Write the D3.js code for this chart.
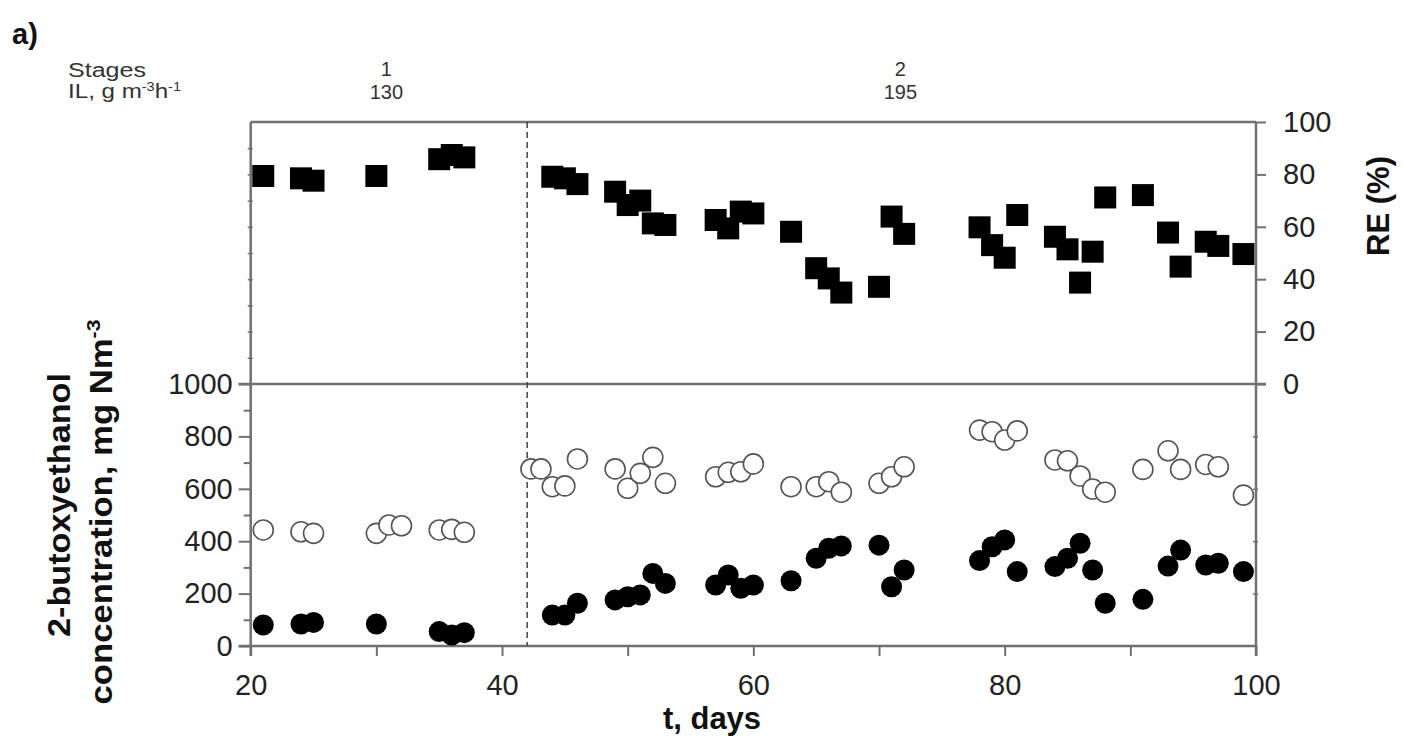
<!DOCTYPE html>
<html>
<head>
<meta charset="utf-8">
<script src="https://cdn.jsdelivr.net/npm/d3@7"></script>
<style>
  body { margin: 0; background: #fff; }
  svg text { font-family: "Liberation Sans", Arial, sans-serif; }
</style>
</head>
<body>
<svg id="chart" width="1403" height="738"></svg>
<script>
// removal efficiency (top panel, squares)
var reDays = [21, 24, 25, 30, 35, 36, 37, 44, 45, 46, 49, 50, 51, 52, 53, 57, 58, 59, 60, 63, 65, 66, 67, 70, 71, 72, 78, 79, 80, 81, 84, 85, 86, 87, 88, 91, 93, 94, 96, 97, 99];
var reValues = [79.4, 78.5, 77.6, 79.4, 85.8, 87.4, 86.5, 79.1, 78.5, 76.3, 73.4, 68.3, 70, 61.3, 60.7, 62.6, 59.4, 65.8, 65.1, 58.1, 44.2, 40.3, 34.9, 37.1, 63.9, 57.3, 59.8, 53, 48.2, 64.5, 56.2, 51.4, 38.7, 50.5, 71.2, 72.1, 57.8, 44.8, 54.3, 52.7, 49.6];

// inlet concentration (open circles)
var inletDays = [21, 24, 25, 30, 31, 32, 35, 36, 37, 42.3, 43.1, 44, 45, 46, 49, 50, 51, 52, 53, 57, 58, 59, 60, 63, 65, 66, 67, 70, 71, 72, 78, 79, 80, 81, 84, 85, 86, 87, 88, 91, 93, 94, 96, 97, 99];
var inletValues = [443, 436, 430, 430, 462, 459, 443, 445, 434, 676, 676, 608, 611, 714, 676, 602, 659, 720, 621, 646, 663, 665, 695, 608, 608, 627, 587, 621, 646, 684, 824, 818, 786, 821, 710, 707, 649, 599, 587, 674, 745, 674, 693, 684, 576];

// outlet concentration (filled circles)
var outletDays = [21, 24, 25, 30, 35, 36, 37, 44, 45, 46, 49, 50, 51, 52, 53, 57, 58, 59, 60, 63, 65, 66, 67, 70, 71, 72, 78, 79, 80, 81, 84, 85, 86, 87, 88, 91, 93, 94, 96, 97, 99];
var outletValues = [80, 84, 90, 84, 55, 42, 51, 118, 118, 163, 176, 188, 195, 277, 239, 233, 271, 220, 233, 249, 335, 373, 382, 385, 226, 290, 326, 379, 405, 284, 303, 335, 392, 290, 163, 178, 305, 366, 309, 316, 284];

// stages
var stageNames = ["1", "2"];
var stageLoads = ["130", "195"];
var stageLabelDays = [30.8, 71.7];
var stageChangeDay = 42;

var xTicks = [20, 30, 40, 50, 60, 70, 80, 90, 100];
var reTicks = [0, 20, 40, 60, 80, 100];
var concTicks = [0, 200, 400, 600, 800, 1000];

var svg = d3.select("#chart");
var grey = "#707070";

var x = d3.scaleLinear().domain([20, 100]).range([250.7, 1256]);
var yRE = d3.scaleLinear().domain([0, 100]).range([384, 122]);
var yC = d3.scaleLinear().domain([0, 1000]).range([646, 384]);

function styleAxis(g, size) {
	g.select(".domain").remove();
	g.selectAll(".tick line").attr("stroke", grey).attr("stroke-width", 2);
	g.selectAll(".tick text").attr("fill", "#222").style("font-size", size + "px");
}

// x axis
var gx = svg.append("g").attr("transform", "translate(0," + yC(0) + ")")
	.call(d3.axisBottom(x).tickValues(xTicks).tickSize(10).tickPadding(18)
		.tickFormat(function(d) { return d % 20 === 0 ? d : ""; }));
styleAxis(gx, 29);

// left axis, concentration
var gl = svg.append("g").attr("transform", "translate(" + x(20) + ",0)")
	.call(d3.axisLeft(yC).tickValues(concTicks).tickSize(12).tickPadding(6)
		.tickFormat(function(d) { return String(d); }));
styleAxis(gl, 29);
var glm = svg.append("g").attr("transform", "translate(" + x(20) + ",0)")
	.call(d3.axisLeft(yC).tickValues(d3.range(100, 1000, 200)).tickSize(7).tickFormat(""));
styleAxis(glm, 29);
// small ticks on left axis in the upper panel
var glt = svg.append("g").attr("transform", "translate(" + (x(20) + 2) + ",0)")
	.call(d3.axisLeft(yRE).tickValues(d3.range(10, 100, 10)).tickSize(5).tickFormat(""));
styleAxis(glt, 29);
glt.selectAll(".tick line").attr("stroke-width", 1.5);

// right axis, RE
var gr = svg.append("g").attr("transform", "translate(" + x(100) + ",0)")
	.call(d3.axisRight(yRE).tickValues(reTicks).tickSize(10).tickPadding(17));
styleAxis(gr, 29);
var grb = svg.append("g").attr("transform", "translate(" + (x(100) + 2) + ",0)")
	.call(d3.axisLeft(yC).tickValues([200, 400, 600, 800]).tickSize(5).tickFormat(""));
styleAxis(grb, 29);
grb.selectAll(".tick line").attr("stroke-width", 1.5);

// frame lines
var frame = [
	[[x(20), yRE(100)], [x(100), yRE(100)]],
	[[x(20) - 12, yRE(0)], [x(100) + 10, yRE(0)]],
	[[x(20) - 12, yC(0)], [x(100), yC(0)]],
	[[x(20), yRE(100)], [x(20), yC(0) + 10]],
	[[x(100), yRE(100)], [x(100), yC(0) + 10]]
];
svg.append("g").selectAll("path").data(frame).enter().append("path")
	.attr("d", d3.line())
	.attr("stroke", grey).attr("stroke-width", 2.5).attr("fill", "none");

// stage change
svg.append("line")
	.attr("x1", x(stageChangeDay)).attr("x2", x(stageChangeDay))
	.attr("y1", yRE(100)).attr("y2", yC(0))
	.attr("stroke", "#444").attr("stroke-width", 1.5).attr("stroke-dasharray", "6,4");

// RE squares
var sq = 22;
svg.append("g").selectAll("rect").data(reDays).enter().append("rect")
	.attr("x", function(d) { return x(d) - sq / 2; })
	.attr("y", function(d, i) { return yRE(reValues[i]) - sq / 2; })
	.attr("width", sq).attr("height", sq)
	.attr("fill", "#000");

// inlet open circles
svg.append("g").selectAll("circle").data(inletDays).enter().append("circle")
	.attr("cx", function(d) { return x(d); })
	.attr("cy", function(d, i) { return yC(inletValues[i]); })
	.attr("r", 10)
	.attr("fill", "#fff").attr("stroke", "#555").attr("stroke-width", 1.6);

// outlet filled circles
svg.append("g").selectAll("circle").data(outletDays).enter().append("circle")
	.attr("cx", function(d) { return x(d); })
	.attr("cy", function(d, i) { return yC(outletValues[i]); })
	.attr("r", 10.5)
	.attr("fill", "#000");

// header
svg.append("text").attr("x", 12).attr("y", 44)
	.style("font-size", "29px").style("font-weight", "bold").attr("fill", "#111").text("a)");
svg.append("text").attr("x", 68).attr("y", 77)
	.attr("textLength", 78).attr("lengthAdjust", "spacingAndGlyphs")
	.style("font-size", "20px").attr("fill", "#333").text("Stages");
var il = svg.append("text").attr("x", 68).attr("y", 98)
	.attr("textLength", 113).attr("lengthAdjust", "spacingAndGlyphs")
	.style("font-size", "20px").attr("fill", "#333");
il.append("tspan").text("IL, g m");
il.append("tspan").attr("dy", -7).style("font-size", "12px").text("-3");
il.append("tspan").attr("dy", 7).text("h");
il.append("tspan").attr("dy", -7).style("font-size", "12px").text("-1");

svg.append("g").selectAll("text").data(stageNames).enter().append("text")
	.attr("x", function(d, i) { return x(stageLabelDays[i]); })
	.attr("y", 76).attr("text-anchor", "middle")
	.style("font-size", "20px").attr("fill", "#333").text(function(d) { return d; });
svg.append("g").selectAll("text").data(stageLoads).enter().append("text")
	.attr("x", function(d, i) { return x(stageLabelDays[i]); })
	.attr("y", 99).attr("text-anchor", "middle")
	.style("font-size", "20px").attr("fill", "#333").text(function(d) { return d; });

// axis titles
svg.append("text").attr("text-anchor", "middle")
	.attr("transform", "translate(712,729)")
	.style("font-size", "31px").style("font-weight", "bold").attr("fill", "#111")
	.text("t, days");

svg.append("text").attr("text-anchor", "middle")
	.attr("transform", "translate(1389,206) rotate(-90)")
	.style("font-size", "31px").style("font-weight", "bold").attr("fill", "#111")
	.text("RE (%)");

svg.append("text").attr("text-anchor", "middle")
	.attr("transform", "translate(70,505) rotate(-90)")
	.attr("textLength", 264).attr("lengthAdjust", "spacingAndGlyphs")
	.style("font-size", "31px").style("font-weight", "bold").attr("fill", "#111")
	.text("2-butoxyethanol");

var yl = svg.append("text").attr("text-anchor", "middle")
	.attr("transform", "translate(112,512) rotate(-90)")
	.attr("textLength", 385).attr("lengthAdjust", "spacingAndGlyphs")
	.style("font-size", "31px").style("font-weight", "bold").attr("fill", "#111");
yl.append("tspan").text("concentration, mg Nm");
yl.append("tspan").attr("dy", -12).style("font-size", "19px").text("-3");
</script>
</body>
</html>
